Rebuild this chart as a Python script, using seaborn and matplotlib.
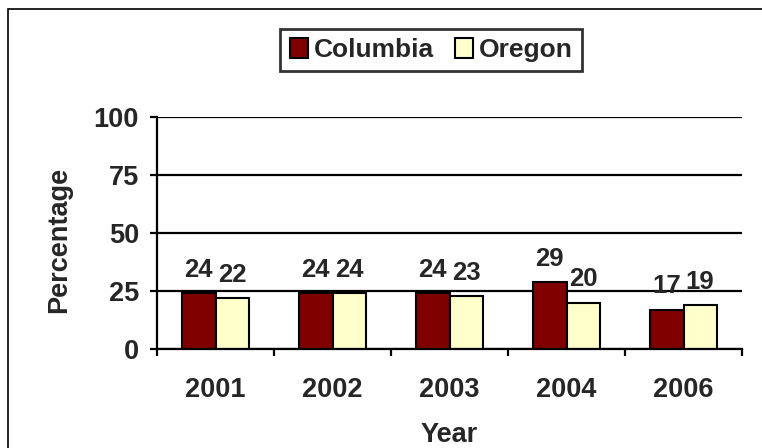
import matplotlib
matplotlib.use("Agg")
import matplotlib.pyplot as plt
import matplotlib.patches as mpatches
import pandas as pd
import seaborn as sns

years = ["2001", "2002", "2003", "2004", "2006"]
columbia = [24, 24, 24, 29, 17]
oregon = [22, 24, 23, 20, 19]
series = ["Columbia", "Oregon"]
colors = ["#800000", "#FFFFCC"]

df = pd.DataFrame({
    "Year": years * 2,
    "Percentage": columbia + oregon,
    "Site": [series[0]] * len(years) + [series[1]] * len(years),
})

sns.set_style("white")
plt.rcParams["font.family"] = ["Liberation Sans", "DejaVu Sans"]
plt.rcParams["font.weight"] = "bold"
fs = 19.5

fig = plt.figure(figsize=(7.62, 4.48), dpi=100)
ax = fig.add_axes([157 / 762, 1 - 349 / 448, (742 - 157) / 762, 232 / 448])

sns.barplot(data=df, x="Year", y="Percentage", hue="Site", order=years,
            hue_order=series, palette=colors, saturation=1, width=0.57,
            edgecolor="black", linewidth=1.5, ax=ax)

for cont in ax.containers:
    ax.bar_label(cont, fmt="%d", padding=8, fontsize=18.5, fontweight="bold")

ax.set_ylim(0, 100)
ax.set_xlim(-0.5, len(years) - 0.5)
ax.set_yticks([0, 25, 50, 75, 100])
ax.yaxis.grid(True, color="black", linewidth=1.6)
ax.set_axisbelow(True)
for side in ["top", "right"]:
    ax.spines[side].set_visible(False)
for side in ["left", "bottom"]:
    ax.spines[side].set_color("black")
    ax.spines[side].set_linewidth(1.6)

ax.tick_params(axis="y", length=5, width=1.6, color="black", pad=8,
               labelsize=fs, left=True)
ax.set_xticks([i - 0.5 for i in range(len(years) + 1)], minor=True)
ax.tick_params(axis="x", which="minor", length=5, width=1.6, color="black",
               bottom=True, direction="out")
ax.tick_params(axis="x", which="major", length=0, pad=20, labelsize=fs)
for lbl in ax.get_xticklabels() + ax.get_yticklabels():
    lbl.set_fontweight("bold")

ax.set_ylabel("Percentage", fontsize=fs, fontweight="bold")
ax.yaxis.set_label_coords(-0.145, 0.47)
ax.set_xlabel("Year", fontsize=fs, fontweight="bold")
ax.xaxis.set_label_coords(0.5, -0.315)

ax.legend_.remove()
handles = [mpatches.Patch(facecolor=c, edgecolor="black", linewidth=1.5)
           for c in colors]
leg = fig.legend(handles, series, loc="center",
                 bbox_to_anchor=(431 / 762, 1 - 50 / 448), ncol=2,
                 prop={"weight": "bold", "size": 19},
                 frameon=True, fancybox=False, handlelength=0.7,
                 handleheight=0.8, handletextpad=0.2, columnspacing=0.8,
                 borderpad=0.35)
leg.get_frame().set_edgecolor("black")
leg.get_frame().set_linewidth(2)

frame = mpatches.Rectangle((8 / 762, -0.1), 1.0, 1 - 9.5 / 448 + 0.1,
                           transform=fig.transFigure, fill=False,
                           edgecolor="black", linewidth=1.2, clip_on=False)
fig.patches.append(frame)

fig.savefig("out.png", dpi=100)
